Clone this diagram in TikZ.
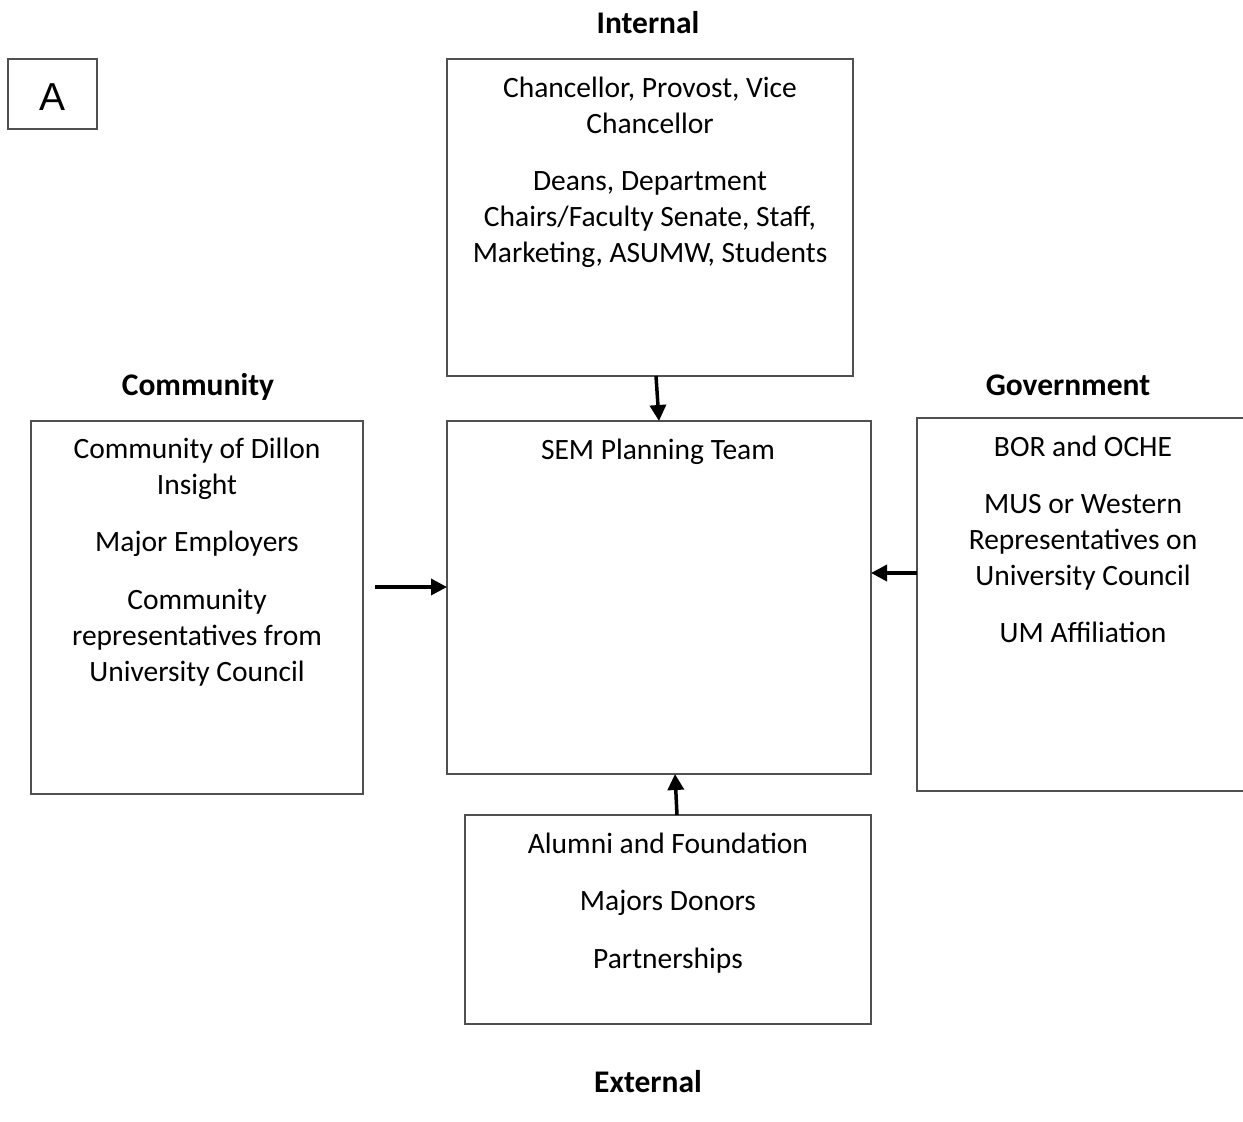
\documentclass[tikz,border=0pt]{standalone}
\usepackage{fontspec}
\setmainfont{Carlito}
\newfontfamily\arialfont{Liberation Sans}
\usetikzlibrary{arrows.meta}
\definecolor{boxgray}{RGB}{80,80,80}
\begin{document}
\begin{tikzpicture}[x=1pt,y=-1pt,
  box/.style={draw=boxgray, line width=1.3pt, inner sep=0, outer sep=0},
  txt/.style={align=center, anchor=north, inner sep=0, font=\fontsize{29.5}{36}\selectfont},
  ttl/.style={anchor=base, inner sep=0, font=\fontsize{31.5}{36}\selectfont\bfseries},
  conn/.style={line width=3.5pt, -{Triangle[length=16pt,width=16pt]}}]
\useasboundingbox (0,0) rectangle (1243,1122);

% boxes
\node[box, minimum width=89pt, minimum height=70pt] (abox) at (52.5,94) {};
\node[anchor=base, inner sep=0, font=\arialfont\fontsize{39}{44}\selectfont] (alabel) at (53,110) {A};

\node[box, minimum width=406pt, minimum height=317pt] (internal) at (650,217.5) {};
\node[box, minimum width=424pt, minimum height=353pt] (sem) at (659,597.5) {};
\node[box, minimum width=332pt, minimum height=373pt] (community) at (197,607.5) {};
\node[draw=none, inner sep=0, outer sep=0, minimum width=326pt, minimum height=373pt] (gov) at (1080,604.5) {};
\draw[draw=boxgray, line width=1.3pt] (gov.north east) -- (gov.north west) -- (gov.south west) -- (gov.south east);
\node[box, minimum width=406pt, minimum height=209pt] (bottom) at (668,919.5) {};

% titles
\node[ttl] (tint) at (648,33) {Internal};
\node[ttl] (tcom) at (198,395) {Community};
\node[ttl] (tgov) at (1068,395) {Government};
\node[ttl] (text) at (648,1092) {External};

% texts
\node[txt] (intxt) at (650,77) {Chancellor, Provost, Vice\\Chancellor\\[21pt]Deans, Department\\Chairs/Faculty Senate, Staff,\\Marketing, ASUMW, Students};
\node[txt] (semtxt) at (658,439) {SEM Planning Team};
\node[txt] (comtxt) at (197,438) {Community of Dillon\\Insight\\[21pt]Major Employers\\[22pt]Community\\representatives from\\University Council};
\node[txt] (govtxt) at (1083,436) {BOR and OCHE\\[21pt]MUS or Western\\Representatives on\\University Council\\[21pt]UM Affiliation};
\node[txt] (bottxt) at (668,833) {Alumni and Foundation\\[21pt]Majors Donors\\[22pt]Partnerships};

% connectors
\draw[conn] ([xshift=6pt]internal.south) -- (sem.north);
\draw[conn] ([shift={(12,-20.5)}]community.east) -- ([shift={(0,-10.5)}]sem.west);
\draw[conn] ([shift={(0,-31.5)}]gov.west) -- ([shift={(0,-24.5)}]sem.east);
\draw[conn] ([xshift=9pt]bottom.north) -- ([xshift=16pt]sem.south);
\end{tikzpicture}
\end{document}
